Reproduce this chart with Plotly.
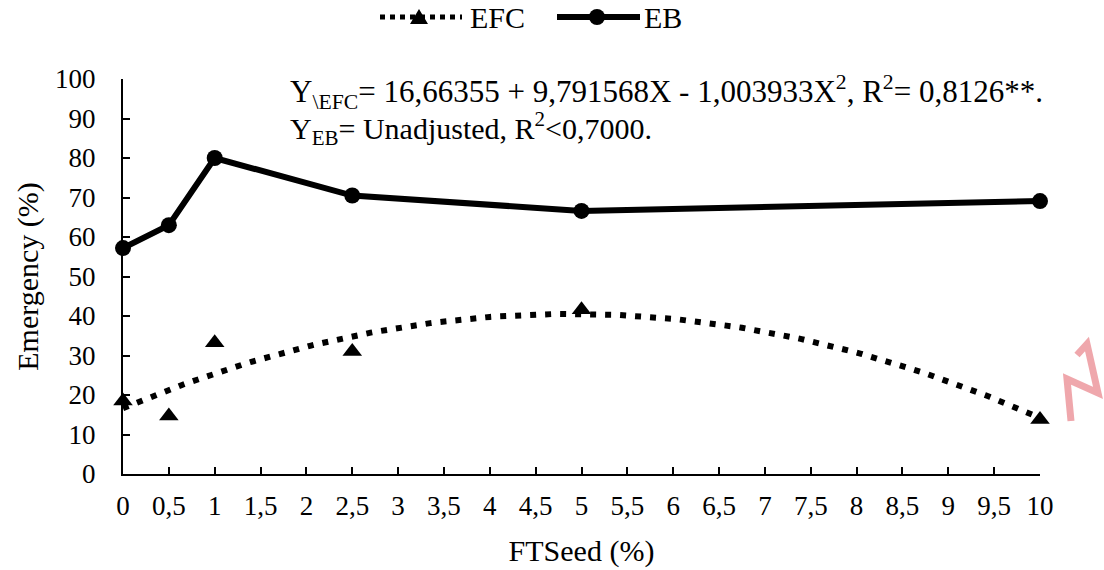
import numpy as np
import plotly.graph_objects as go

# FTSeed doses (%) and emergence (%) per treatment
dose = [0, 0.5, 1, 2.5, 5, 10]
efc = [18.5, 14.7, 33.2, 31.0, 41.6, 13.8]
eb = [57.2, 63.0, 80.0, 70.5, 66.6, 69.1]

# Quadratic fit for EFC, as stated in the equation
b0, b1, b2 = 16.66355, 9.791568, -1.003933
fit_x = np.linspace(0, 10, 201)
fit_y = b0 + b1 * fit_x + b2 * fit_x ** 2

W, H = 1104, 570
ML, MR, MT, MB = 123, 64, 79, 96
FONT = "'Liberation Serif', 'Times New Roman', Times, 'DejaVu Serif', serif"


def px(x):
    return (x - ML) / (W - ML - MR)


def py(y):
    return (H - MB - y) / (H - MT - MB)


fig = go.Figure()
fig.add_trace(go.Scatter(
    x=fit_x, y=fit_y, mode="lines",
    line=dict(color="black", width=6, dash="6px,9px"),
    showlegend=False, hoverinfo="skip", cliponaxis=False))
fig.add_trace(go.Scatter(
    x=dose, y=efc, mode="markers", name="EFC",
    marker=dict(symbol="triangle-up", size=17, color="black"),
    showlegend=False, cliponaxis=False))
fig.add_trace(go.Scatter(
    x=dose, y=eb, mode="lines+markers", name="EB",
    line=dict(color="black", width=6),
    marker=dict(symbol="circle", size=16, color="black"),
    showlegend=False, cliponaxis=False))

shapes = []
# legend: EFC dotted line with triangle
shapes.append(dict(type="line", xref="paper", yref="paper",
                   x0=px(380), x1=px(462), y0=py(17), y1=py(17),
                   line=dict(color="black", width=5, dash="5px,5px")))
tx, ty = 419, 17
shapes.append(dict(type="path", xref="paper", yref="paper",
                   path=f"M{px(tx-9)},{py(ty+7)} L{px(tx+9)},{py(ty+7)} L{px(tx)},{py(ty-8)} Z",
                   fillcolor="black", line=dict(width=0)))
# legend: EB solid line with circle
shapes.append(dict(type="line", xref="paper", yref="paper",
                   x0=px(557), x1=px(640), y0=py(17), y1=py(17),
                   line=dict(color="black", width=6)))
shapes.append(dict(type="circle", xref="paper", yref="paper",
                   x0=px(597 - 8), x1=px(597 + 8), y0=py(17 - 8), y1=py(17 + 8),
                   fillcolor="black", line=dict(width=0)))
# red hand-drawn mark at the right edge
shapes.append(dict(type="path", xref="paper", yref="paper",
                   path=(f"M{px(1077)},{py(355)} L{px(1087)},{py(344)} L{px(1098)},{py(393)} "
                         f"L{px(1067)},{py(379)} L{px(1071)},{py(421)}"),
                   line=dict(color="rgba(220,60,70,0.45)", width=7)))

annotations = [
    dict(xref="paper", yref="paper", x=px(468), y=py(17), xanchor="left", yanchor="middle",
         text="EFC", showarrow=False, font=dict(size=30, color="black", family=FONT)),
    dict(xref="paper", yref="paper", x=px(642), y=py(17), xanchor="left", yanchor="middle",
         text="EB", showarrow=False, font=dict(size=30, color="black", family=FONT)),
    dict(xref="paper", yref="paper", x=px(288), y=py(92), xanchor="left", yanchor="middle",
         text="Y<sub>\\EFC</sub>= 16,66355 + 9,791568X - 1,003933X<sup>2</sup>, R<sup>2</sup>= 0,8126**.",
         showarrow=False, font=dict(size=31, color="black", family=FONT)),
    dict(xref="paper", yref="paper", x=px(288), y=py(128), xanchor="left", yanchor="middle",
         text="Y<sub>EB</sub>= Unadjusted, R<sup>2</sup><0,7000.",
         showarrow=False, font=dict(size=30, color="black", family=FONT)),
]

axis_common = dict(showgrid=False, zeroline=False, showline=True, linecolor="black",
                   linewidth=2, ticks="inside", ticklen=7, tickwidth=2, tickcolor="black",
                   automargin=False,
                   tickfont=dict(size=27, color="black", family=FONT))

fig.update_layout(
    width=W, height=H,
    margin=dict(l=ML, r=MR, t=MT, b=MB, pad=0, autoexpand=False),
    paper_bgcolor="white", plot_bgcolor="white",
    font=dict(family=FONT, color="black"),
    separators=", ",
    showlegend=False,
    shapes=shapes, annotations=annotations,
    xaxis=dict(range=[0, 10], tick0=0, dtick=0.5, ticklabelstandoff=7,
               title=dict(text="FTSeed (%)", font=dict(size=30, color="black", family=FONT),
                          standoff=20),
               **axis_common),
    yaxis=dict(range=[0, 100], tick0=0, dtick=10, ticklabelstandoff=20,
               title=dict(text="Emergency (%)", font=dict(size=30, color="black", family=FONT),
                          standoff=8),
               **axis_common),
)

fig.write_html("out.html")
